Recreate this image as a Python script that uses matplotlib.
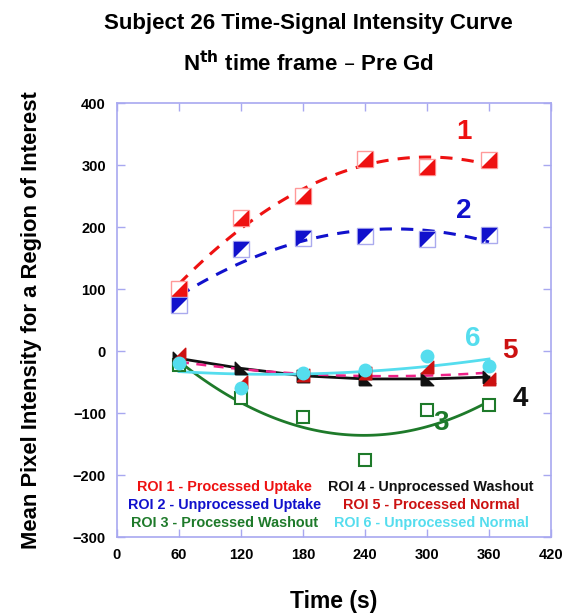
import numpy as np
import matplotlib
matplotlib.use("Agg")
import matplotlib.pyplot as plt

plt.rcParams["font.family"] = ["Liberation Sans", "DejaVu Sans"]
plt.rcParams["font.weight"] = "bold"

# time points (s)
times = [60, 120, 180, 240, 300, 360]

# mean pixel intensity per ROI
roi1 = [100, 215, 250, 310, 297, 308]
roi2 = [75, 165, 182, 185, 180, 187]
roi3 = [-22, -76, -106, -176, -95, -87]
roi4 = [-12, -28, -40, -45, -45, -42]
roi5 = [-5, -50, -38, -35, -25, -45]
roi6 = [-20, -60, -36, -30, -8, -24]

legend_labels = [
    "ROI 1 - Processed Uptake",
    "ROI 2 - Unprocessed Uptake",
    "ROI 3 - Processed Washout",
    "ROI 4 - Unprocessed Washout",
    "ROI 5 - Processed Normal",
    "ROI 6 - Unprocessed Normal",
]

red = "#ee1111"
blue = "#1111cc"
green = "#1e7a2a"
black = "#111111"
darkred = "#cc1111"
cyan = "#55ddee"
pink = "#ee2288"

# half-filled square markers
tri_lr = [(-1, -1), (1, -1), (1, 1), (-1, -1)]
tri_ul = [(-1, -1), (-1, 1), (1, 1), (-1, -1)]
tri_ll = [(-1, -1), (1, -1), (-1, 1), (-1, -1)]

fig = plt.figure(figsize=(5.66, 6.15), dpi=100)
ax = fig.add_axes([0.2067, 0.1268, 0.7668, 0.7057])

xs = np.linspace(60, 360, 100)


def fit(y, deg=2):
    c = np.polyfit(times, y, deg)
    return np.polyval(c, xs)


# fitted curves
ax.plot(xs, fit(roi1), color=red, lw=2.2, ls=(0, (4, 3)))
ax.plot(xs, fit(roi2), color=blue, lw=2.2, ls=(0, (4, 3)))
ax.plot(xs, fit(roi3), color=green, lw=2)
ax.plot(times, roi4, color=black, lw=2)
ax.plot(xs, fit(roi5), color=pink, lw=1.8, ls=(0, (4, 3)))
ax.plot(xs, fit(roi6), color=cyan, lw=2)

# markers
ax.plot(times, roi1, ls="none", marker="s", ms=11, mfc="white", mec="#ff9999", mew=1)
ax.plot(times, roi1, ls="none", marker=tri_lr, ms=10, color=red)
ax.plot(times, roi2, ls="none", marker="s", ms=11, mfc="none", mec="#aaaaee", mew=1)
ax.plot(times, roi2, ls="none", marker=tri_ul, ms=10, color=blue)
ax.plot(times, roi3, ls="none", marker="s", ms=9, mfc="white", mec=green, mew=1.5)
ax.plot(times, roi4, ls="none", marker=tri_ll, ms=9, color=black)
ax.plot(times, roi5, ls="none", marker=tri_lr, ms=9, color=darkred)
ax.plot(times, roi6, ls="none", marker="o", ms=9, color=cyan)

# curve numbers
ax.text(328, 342, "1", color=red, fontsize=20, fontweight="bold")
ax.text(328, 215, "2", color=blue, fontsize=20, fontweight="bold")
ax.text(337, 8, "6", color=cyan, fontsize=20, fontweight="bold")
ax.text(373, -12, "5", color=darkred, fontsize=20, fontweight="bold")
ax.text(383, -88, "4", color=black, fontsize=20, fontweight="bold")
ax.text(306, -127, "3", color=green, fontsize=20, fontweight="bold")

# legend as coloured text
col1 = [red, blue, green]
col2 = [black, darkred, cyan]
for i in range(3):
    y = -219 - i * 29
    ax.text(104, y, legend_labels[i], color=col1[i], fontsize=10.4,
            fontweight="bold", ha="center", va="center")
    ax.text(304, y, legend_labels[i + 3], color=col2[i], fontsize=10.4,
            fontweight="bold", ha="center", va="center")

ax.set_xlim(0, 420)
ax.set_ylim(-300, 400)
ax.set_xticks(range(0, 421, 60))
ax.set_yticks(range(-300, 401, 100))

spine_col = "#a8a8f0"
for s in ax.spines.values():
    s.set_color(spine_col)
    s.set_linewidth(1.2)
ax.tick_params(direction="in", top=True, right=True, length=6, width=1,
               color=spine_col, labelsize=10.5, pad=8)
for lab in ax.get_xticklabels() + ax.get_yticklabels():
    lab.set_fontweight("bold")

ax.set_xlabel("Time (s)", fontsize=16.5, fontweight="bold", labelpad=20)
ax.set_ylabel("Mean Pixel Intensity for a Region of Interest", fontsize=15.8,
              fontweight="bold", labelpad=22)

fig.text(0.545, 0.962, "Subject 26 Time-Signal Intensity Curve", ha="center",
         va="center", fontsize=16, fontweight="bold")
fig.text(0.545, 0.897, r"N$^{\mathbf{th}}$ time frame – Pre Gd", ha="center",
         va="center", fontsize=16, fontweight="bold")

fig.savefig("out.png", dpi=100)
